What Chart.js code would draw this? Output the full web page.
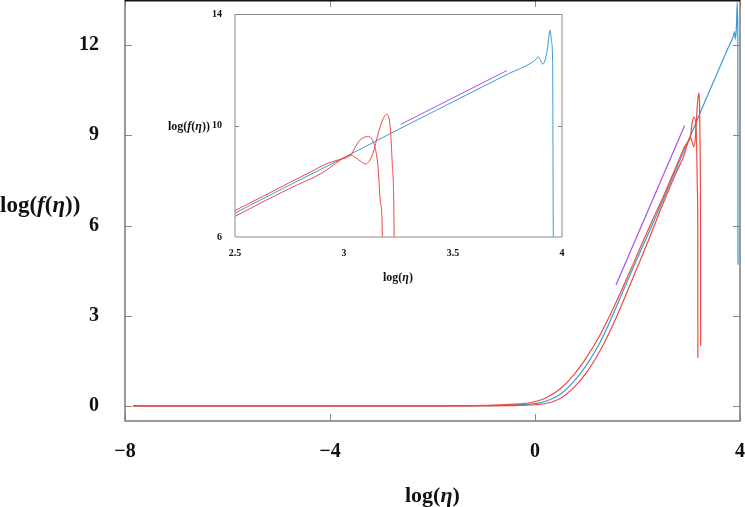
<!DOCTYPE html>
<html>
<head>
<meta charset="utf-8">
<script src="https://cdn.jsdelivr.net/npm/chart.js@4.4.0/dist/chart.umd.min.js"></script>
<style>
  html, body { margin:0; padding:0; background:#fff; }
  #wrap { position:relative; width:745px; height:507px; overflow:hidden; }
  #main { position:absolute; left:0; top:0; }
  #insetBox { position:absolute; left:160px; top:0; width:410px; height:292px; }
  .t { position:absolute; font-family:"Liberation Serif", serif; font-weight:bold; color:#111; white-space:nowrap; line-height:1; }
</style>
</head>
<body>
<div id="wrap">
  <canvas id="main" width="745" height="507"></canvas>
  <div id="insetBox"><canvas id="inset" width="410" height="292"></canvas></div>
  <div class="t" id="ylab" style="left:0px; top:193px; font-size:23px;">log(<i>f</i>(<i>η</i>))</div>
  <div class="t" id="xlab" style="left:405px; top:484px; font-size:22px;">log(<i>η</i>)</div>
  <div class="t" id="iylab" style="left:168px; top:120px; font-size:12px;">log(<i>f</i>(<i>η</i>))</div>
  <div class="t" id="ixlab" style="left:383px; top:271px; font-size:12px;">log(<i>η</i>)</div>
</div>
<script>
// ---------------- data ----------------
const blueX = [-7.84, -4, -2, -1, -0.5, 0, 0.25, 0.5, 0.75, 1.0, 1.25, 1.5, 1.75, 2.0, 2.25, 2.5, 2.75, 3.0, 3.25, 3.5, 3.75, 3.87, 3.892, 3.912, 3.93, 3.946, 3.952, 3.957, 3.96, 3.962];
const blueY = [0, 0, 0, 0.01, 0.03, 0.08, 0.18, 0.4, 0.8, 1.35, 2.05, 2.95, 3.95, 4.92, 5.88, 6.86, 7.86, 8.85, 9.86, 10.85, 11.84, 12.3, 12.45, 12.2, 12.6, 13.42, 13.0, 12.3, 6, 4.7];

const redAX = [-7.84, -4, -2, -1, -0.5, 0, 0.25, 0.5, 0.75, 1.0, 1.25, 1.5, 1.75, 2.0, 2.25, 2.5, 2.75, 2.85, 2.93, 2.98, 3.03, 3.07, 3.107, 3.135, 3.155, 3.168, 3.176, 3.178];
const redAY = [0, 0, 0.005, 0.02, 0.05, 0.14, 0.3, 0.58, 1.02, 1.6, 2.3, 3.15, 4.08, 5.05, 6.02, 6.95, 7.95, 8.35, 8.66, 8.78, 8.94, 9.45, 9.6, 9.4, 8.6, 7.2, 6, 1.6];

const redBX = [-7.84, -4, -2, -1, -0.5, 0, 0.25, 0.5, 0.75, 1.0, 1.25, 1.5, 1.75, 2.0, 2.25, 2.5, 2.75, 2.9, 2.98, 3.03, 3.07, 3.10, 3.13, 3.16, 3.18, 3.195, 3.21, 3.222, 3.23, 3.232];
const redBY = [0, 0, 0, 0.005, 0.01, 0.04, 0.1, 0.26, 0.6, 1.1, 1.78, 2.62, 3.6, 4.62, 5.66, 6.74, 7.74, 8.3, 8.74, 8.94, 8.75, 8.62, 8.95, 9.8, 10.25, 10.4, 10.1, 8.5, 6, 2.0];

const purpleMainX = [1.58, 2.92];
const purpleMainY = [4.02, 9.33];
const purpleInsetX = [3.26, 3.747];
const purpleInsetY = [10.04, 11.97];

const mainXTicks = [-8, -4, 0, 4];
const mainYTicks = [0, 3, 6, 9, 12];
const insetXTicks = [2.5, 3, 3.5, 4];
const insetYTicks = [6, 10, 14];

// ---------------- helpers ----------------
const pts = (xs, ys) => xs.map((x, i) => ({x, y: ys[i]}));
const BLUE = '#3b9bd8', RED = '#ee4a3f', PURPLE = '#b24de6';

function ds(label, xs, ys, color, w) {
  return { label, data: pts(xs, ys), borderColor: color, borderWidth: w,
           pointRadius: 0, fill: false, cubicInterpolationMode: 'monotone' };
}

const frameTicks = {
  id: 'frameTicks',
  beforeDatasetsDraw(chart, args, o) {
    if (!o.fill) return;
    const a = chart.chartArea, c = chart.ctx;
    c.save(); c.fillStyle = '#fff'; c.fillRect(a.left, a.top, a.right - a.left, a.bottom - a.top); c.restore();
  },
  afterDatasetsDraw(chart, args, o) {
    const {ctx, chartArea: a, scales: {x, y}} = chart;
    ctx.save();
    ctx.strokeStyle = o.tickColor; ctx.lineWidth = 1;
    ctx.beginPath();
    (o.xTicks || []).forEach(v => {
      const p = Math.round(x.getPixelForValue(v)) + 0.5;
      ctx.moveTo(p, a.bottom); ctx.lineTo(p, a.bottom - o.len);
      ctx.moveTo(p, a.top); ctx.lineTo(p, a.top + o.len);
    });
    (o.yTicks || []).forEach(v => {
      const p = Math.round(y.getPixelForValue(v)) + 0.5;
      ctx.moveTo(a.left, p); ctx.lineTo(a.left + o.len, p);
      ctx.moveTo(a.right, p); ctx.lineTo(a.right - o.len, p);
    });
    ctx.stroke();
    ctx.lineWidth = o.frameWidth;
    ctx.strokeStyle = o.frameColor;
    ctx.beginPath();
    ctx.moveTo(a.left, a.top); ctx.lineTo(a.left, a.bottom); ctx.lineTo(a.right, a.bottom); ctx.lineTo(a.right, a.top);
    ctx.stroke();
    ctx.strokeStyle = o.topColor;
    ctx.lineWidth = o.topWidth || 1;
    ctx.beginPath(); ctx.moveTo(a.left, a.top + 0.5); ctx.lineTo(a.right, a.top + 0.5); ctx.stroke();
    ctx.restore();
  }
};

const fmt = v => String(v).replace('-', '\u2212');
const noPad = s => { s.paddingLeft = 0; s.paddingRight = 0; s.paddingTop = 0; s.paddingBottom = 0; };

// ---------------- main chart ----------------
new Chart(document.getElementById('main'), {
  type: 'line',
  data: { datasets: [
    ds('red A', redAX, redAY, RED, 1.2),
    ds('red B', redBX, redBY, RED, 1.2),
    ds('blue', blueX, blueY, BLUE, 1.2),
    ds('slope', purpleMainX, purpleMainY, PURPLE, 1.2)
  ]},
  options: {
    responsive: false, animation: false, events: [],
    layout: { autoPadding: false, padding: { top: 0, right: 5, left: 0, bottom: 0 } },
    plugins: { legend: { display: false }, tooltip: { enabled: false },
      frameTicks: { xTicks: mainXTicks, yTicks: mainYTicks, len: 7, tickColor: '#888',
                    frameColor: '#7a7a7a', frameWidth: 1.5, topColor: '#111', topWidth: 2 } },
    scales: {
      x: { type: 'linear', min: -8, max: 4,
           afterBuildTicks: s => { s.ticks = mainXTicks.map(v => ({value: v})); },
           afterFit: s => { s.height = 86; noPad(s); },
           grid: { display: false }, border: { display: false },
           ticks: { padding: 11, color: '#111', maxRotation: 0, callback: v => fmt(v),
                    font: { family: 'Liberation Serif', weight: 'bold', size: 20 } } },
      y: { type: 'linear', min: -0.5, max: 13.5,
           afterBuildTicks: s => { s.ticks = mainYTicks.map(v => ({value: v})); },
           afterFit: s => { s.width = 125; noPad(s); },
           grid: { display: false }, border: { display: false },
           ticks: { padding: 18, color: '#111', callback: v => fmt(v),
                    font: { family: 'Liberation Serif', weight: 'bold', size: 20 } } }
    }
  },
  plugins: [frameTicks]
});

// ---------------- inset chart ----------------
new Chart(document.getElementById('inset'), {
  type: 'line',
  data: { datasets: [
    ds('red A', redAX, redAY, RED, 1),
    ds('red B', redBX, redBY, RED, 1),
    ds('blue', blueX, blueY, BLUE, 1),
    ds('slope', purpleInsetX, purpleInsetY, PURPLE, 1)
  ]},
  options: {
    responsive: false, animation: false, events: [],
    layout: { autoPadding: false, padding: { top: 14, right: 8, left: 0, bottom: 0 } },
    plugins: { legend: { display: false }, tooltip: { enabled: false },
      frameTicks: { fill: true, xTicks: [], yTicks: [10], len: 4, tickColor: '#888',
                    frameColor: '#8a8a8a', frameWidth: 1, topColor: '#8a8a8a' } },
    scales: {
      x: { type: 'linear', min: 2.5, max: 4,
           afterBuildTicks: s => { s.ticks = insetXTicks.map(v => ({value: v})); },
           afterFit: s => { s.height = 55; noPad(s); },
           grid: { display: false }, border: { display: false },
           ticks: { padding: 2, color: '#111', maxRotation: 0, callback: v => String(v),
                    font: { family: 'Liberation Serif', weight: 'bold', size: 10 } } },
      y: { type: 'linear', min: 6, max: 14,
           afterBuildTicks: s => { s.ticks = insetYTicks.map(v => ({value: v})); },
           afterFit: s => { s.width = 75; noPad(s); },
           grid: { display: false }, border: { display: false },
           ticks: { padding: 5, color: '#111', callback: v => String(v),
                    font: { family: 'Liberation Serif', weight: 'bold', size: 10 } } }
    }
  },
  plugins: [frameTicks]
});
</script>
</body>
</html>
